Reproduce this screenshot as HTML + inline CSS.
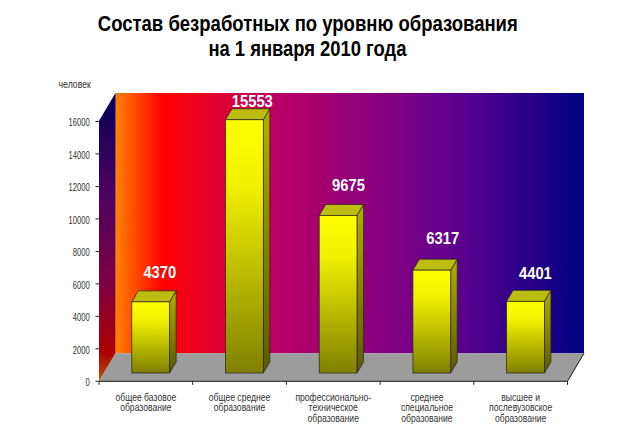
<!DOCTYPE html>
<html><head><meta charset="utf-8"><style>
html,body{margin:0;padding:0;background:#fff;width:620px;height:438px;overflow:hidden}
svg{display:block;font-family:"Liberation Sans", sans-serif}
</style></head><body>
<svg width="620" height="438" viewBox="0 0 620 438">
<defs>
<linearGradient id="back" x1="0" y1="0" x2="1" y2="0">
 <stop offset="0" stop-color="#FF8200"/>
 <stop offset="0.10" stop-color="#FF0000"/>
 <stop offset="0.35" stop-color="#BA0066"/>
 <stop offset="0.70" stop-color="#66008F"/>
 <stop offset="1" stop-color="#000082"/>
</linearGradient>
<linearGradient id="side" x1="0" y1="0" x2="0" y2="1">
 <stop offset="0" stop-color="#000082"/>
 <stop offset="0.30" stop-color="#66008F"/>
 <stop offset="0.65" stop-color="#BA0066"/>
 <stop offset="0.90" stop-color="#FF0000"/>
 <stop offset="1" stop-color="#FF8200"/>
</linearGradient>
<linearGradient id="bfront" x1="0" y1="0" x2="0" y2="1">
 <stop offset="0" stop-color="#FFFF00"/>
 <stop offset="0.25" stop-color="#F2F200"/>
 <stop offset="1" stop-color="#808000"/>
</linearGradient>
<linearGradient id="bside" x1="0" y1="0" x2="0" y2="1">
 <stop offset="0" stop-color="#B0B000"/>
 <stop offset="1" stop-color="#5A5A00"/>
</linearGradient>
</defs>
<rect width="620" height="438" fill="#FFFFFF"/>
<rect x="115.50" y="93.00" width="468.50" height="260.3" fill="url(#back)"/>
<polygon points="99.00,381.30 99.00,121.00 115.50,93.00 115.50,353.30" fill="url(#side)"/>
<polygon points="99.00,381.30 99.00,121.00 115.50,93.00 115.50,353.30" fill="#000" fill-opacity="0.32"/>
<polygon points="99.00,381.30 115.50,353.30 584.00,353.30 567.50,381.30" fill="#9C9C9C"/>
<polyline points="99.00,381.30 567.50,381.30 584.00,353.30" fill="none" stroke="#1a1a1a" stroke-width="1"/>
<line x1="95.5" y1="381.30" x2="99.0" y2="381.30" stroke="#222" stroke-width="1"/>
<text x="85.55" y="386.10" font-size="10.5" fill="#333" textLength="4.25" lengthAdjust="spacingAndGlyphs">0</text>
<line x1="95.5" y1="348.82" x2="99.0" y2="348.82" stroke="#222" stroke-width="1"/>
<text x="72.80" y="353.62" font-size="10.5" fill="#333" textLength="17.00" lengthAdjust="spacingAndGlyphs">2000</text>
<line x1="95.5" y1="316.35" x2="99.0" y2="316.35" stroke="#222" stroke-width="1"/>
<text x="72.80" y="321.15" font-size="10.5" fill="#333" textLength="17.00" lengthAdjust="spacingAndGlyphs">4000</text>
<line x1="95.5" y1="283.88" x2="99.0" y2="283.88" stroke="#222" stroke-width="1"/>
<text x="72.80" y="288.68" font-size="10.5" fill="#333" textLength="17.00" lengthAdjust="spacingAndGlyphs">6000</text>
<line x1="95.5" y1="251.40" x2="99.0" y2="251.40" stroke="#222" stroke-width="1"/>
<text x="72.80" y="256.20" font-size="10.5" fill="#333" textLength="17.00" lengthAdjust="spacingAndGlyphs">8000</text>
<line x1="95.5" y1="218.93" x2="99.0" y2="218.93" stroke="#222" stroke-width="1"/>
<text x="68.55" y="223.73" font-size="10.5" fill="#333" textLength="21.25" lengthAdjust="spacingAndGlyphs">10000</text>
<line x1="95.5" y1="186.45" x2="99.0" y2="186.45" stroke="#222" stroke-width="1"/>
<text x="68.55" y="191.25" font-size="10.5" fill="#333" textLength="21.25" lengthAdjust="spacingAndGlyphs">12000</text>
<line x1="95.5" y1="153.97" x2="99.0" y2="153.97" stroke="#222" stroke-width="1"/>
<text x="68.55" y="158.78" font-size="10.5" fill="#333" textLength="21.25" lengthAdjust="spacingAndGlyphs">14000</text>
<line x1="95.5" y1="121.50" x2="99.0" y2="121.50" stroke="#222" stroke-width="1"/>
<text x="68.55" y="126.30" font-size="10.5" fill="#333" textLength="21.25" lengthAdjust="spacingAndGlyphs">16000</text>
<line x1="99.00" y1="381.3" x2="99.00" y2="384.8" stroke="#222" stroke-width="1"/>
<line x1="192.70" y1="381.3" x2="192.70" y2="384.8" stroke="#222" stroke-width="1"/>
<line x1="286.40" y1="381.3" x2="286.40" y2="384.8" stroke="#222" stroke-width="1"/>
<line x1="380.10" y1="381.3" x2="380.10" y2="384.8" stroke="#222" stroke-width="1"/>
<line x1="473.80" y1="381.3" x2="473.80" y2="384.8" stroke="#222" stroke-width="1"/>
<line x1="567.50" y1="381.3" x2="567.50" y2="384.8" stroke="#222" stroke-width="1"/>
<polygon points="169.61,373.00 169.61,301.85 176.11,290.85 176.11,362.00" fill="url(#bside)" stroke="#222" stroke-width="0.7"/>
<polygon points="131.81,301.85 138.31,290.85 176.11,290.85 169.61,301.85" fill="#BDBD10" stroke="#222" stroke-width="0.7"/>
<rect x="131.81" y="301.85" width="37.8" height="71.15" fill="url(#bfront)" stroke="#222" stroke-width="0.7"/>
<polygon points="263.31,373.00 263.31,119.78 269.81,108.78 269.81,362.00" fill="url(#bside)" stroke="#222" stroke-width="0.7"/>
<polygon points="225.51,119.78 232.01,108.78 269.81,108.78 263.31,119.78" fill="#BDBD10" stroke="#222" stroke-width="0.7"/>
<rect x="225.51" y="119.78" width="37.8" height="253.22" fill="url(#bfront)" stroke="#222" stroke-width="0.7"/>
<polygon points="357.01,373.00 357.01,215.48 363.51,204.48 363.51,362.00" fill="url(#bside)" stroke="#222" stroke-width="0.7"/>
<polygon points="319.21,215.48 325.71,204.48 363.51,204.48 357.01,215.48" fill="#BDBD10" stroke="#222" stroke-width="0.7"/>
<rect x="319.21" y="215.48" width="37.8" height="157.52" fill="url(#bfront)" stroke="#222" stroke-width="0.7"/>
<polygon points="450.71,373.00 450.71,270.15 457.21,259.15 457.21,362.00" fill="url(#bside)" stroke="#222" stroke-width="0.7"/>
<polygon points="412.91,270.15 419.41,259.15 457.21,259.15 450.71,270.15" fill="#BDBD10" stroke="#222" stroke-width="0.7"/>
<rect x="412.91" y="270.15" width="37.8" height="102.85" fill="url(#bfront)" stroke="#222" stroke-width="0.7"/>
<polygon points="544.41,373.00 544.41,301.35 550.91,290.35 550.91,362.00" fill="url(#bside)" stroke="#222" stroke-width="0.7"/>
<polygon points="506.61,301.35 513.11,290.35 550.91,290.35 544.41,301.35" fill="#BDBD10" stroke="#222" stroke-width="0.7"/>
<rect x="506.61" y="301.35" width="37.8" height="71.65" fill="url(#bfront)" stroke="#222" stroke-width="0.7"/>
<text x="159.8" y="277.6" text-anchor="middle" font-size="17" font-weight="bold" fill="#FFFFFF" textLength="32.8" lengthAdjust="spacingAndGlyphs">4370</text>
<text x="252.3" y="106.6" text-anchor="middle" font-size="17" font-weight="bold" fill="#FFFFFF" textLength="41.0" lengthAdjust="spacingAndGlyphs">15553</text>
<text x="348.5" y="190.5" text-anchor="middle" font-size="17" font-weight="bold" fill="#FFFFFF" textLength="32.8" lengthAdjust="spacingAndGlyphs">9675</text>
<text x="442.7" y="244.3" text-anchor="middle" font-size="17" font-weight="bold" fill="#FFFFFF" textLength="32.8" lengthAdjust="spacingAndGlyphs">6317</text>
<text x="535.4" y="278.5" text-anchor="middle" font-size="17" font-weight="bold" fill="#FFFFFF" textLength="32.8" lengthAdjust="spacingAndGlyphs">4401</text>
<text x="307.8" y="31.3" text-anchor="middle" font-size="22.5" font-weight="bold" fill="#000" textLength="420" lengthAdjust="spacingAndGlyphs">Состав безработных по уровню образования</text>
<text x="307.4" y="56.2" text-anchor="middle" font-size="22.5" font-weight="bold" fill="#000" textLength="198" lengthAdjust="spacingAndGlyphs">на 1 января 2010 года</text>
<text x="58.6" y="87.5" font-size="10" fill="#333" textLength="32.2" lengthAdjust="spacingAndGlyphs">человек</text>
<text x="145.85" y="400.60" text-anchor="middle" font-size="10.5" fill="#333" transform="translate(145.85 0) scale(0.82 1) translate(-145.85 0)">общее базовое</text>
<text x="145.85" y="411.50" text-anchor="middle" font-size="10.5" fill="#333" transform="translate(145.85 0) scale(0.82 1) translate(-145.85 0)">образование</text>
<text x="239.55" y="400.60" text-anchor="middle" font-size="10.5" fill="#333" transform="translate(239.55 0) scale(0.82 1) translate(-239.55 0)">общее среднее</text>
<text x="239.55" y="411.50" text-anchor="middle" font-size="10.5" fill="#333" transform="translate(239.55 0) scale(0.82 1) translate(-239.55 0)">образование</text>
<text x="333.25" y="400.60" text-anchor="middle" font-size="10.5" fill="#333" transform="translate(333.25 0) scale(0.82 1) translate(-333.25 0)">профессионально-</text>
<text x="333.25" y="411.50" text-anchor="middle" font-size="10.5" fill="#333" transform="translate(333.25 0) scale(0.82 1) translate(-333.25 0)">техническое</text>
<text x="333.25" y="422.40" text-anchor="middle" font-size="10.5" fill="#333" transform="translate(333.25 0) scale(0.82 1) translate(-333.25 0)">образование</text>
<text x="426.95" y="400.60" text-anchor="middle" font-size="10.5" fill="#333" transform="translate(426.95 0) scale(0.82 1) translate(-426.95 0)">среднее</text>
<text x="426.95" y="411.50" text-anchor="middle" font-size="10.5" fill="#333" transform="translate(426.95 0) scale(0.82 1) translate(-426.95 0)">специальное</text>
<text x="426.95" y="422.40" text-anchor="middle" font-size="10.5" fill="#333" transform="translate(426.95 0) scale(0.82 1) translate(-426.95 0)">образование</text>
<text x="520.65" y="400.60" text-anchor="middle" font-size="10.5" fill="#333" transform="translate(520.65 0) scale(0.82 1) translate(-520.65 0)">высшее и</text>
<text x="520.65" y="411.50" text-anchor="middle" font-size="10.5" fill="#333" transform="translate(520.65 0) scale(0.82 1) translate(-520.65 0)">послевузовское</text>
<text x="520.65" y="422.40" text-anchor="middle" font-size="10.5" fill="#333" transform="translate(520.65 0) scale(0.82 1) translate(-520.65 0)">образование</text>
</svg>
</body></html>
